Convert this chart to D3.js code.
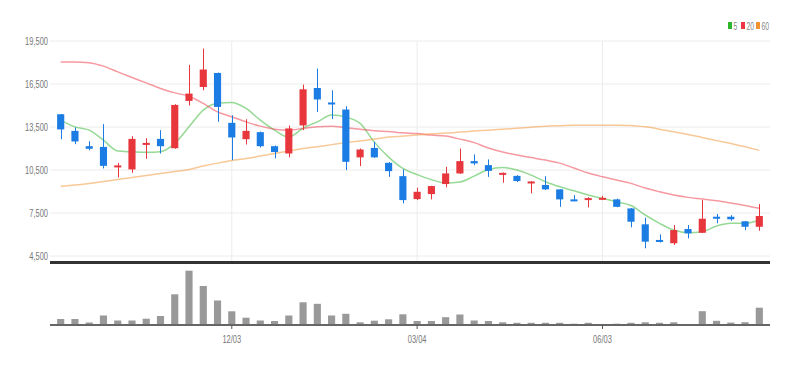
<!DOCTYPE html>
<html><head><meta charset="utf-8">
<script src="https://cdn.jsdelivr.net/npm/d3@7"></script>
<style>
html,body{margin:0;padding:0;background:#fff;}
svg text{font-family:"Liberation Sans","Arial",sans-serif;}
</style></head>
<body><svg id="c" width="798" height="365"></svg>
<script>
const dates = ["09/10","09/17","09/24","10/01","10/08","10/15","10/22","10/29","11/05","11/12","11/19","11/26",
"12/03","12/10","12/17","12/24","12/31","01/07","01/14","01/21","01/28","02/04","02/11","02/18","02/25",
"03/04","03/11","03/18","03/25","04/01","04/08","04/15","04/22","04/29","05/06","05/13","05/20","05/27",
"06/03","06/10","06/17","06/24","07/01","07/08","07/15","07/22","07/29","08/05","08/12","08/19"];
const openP  = [14390,13230,12160,12110,10680,10540,12280,12670,12020,15320,16290,17270,13790,12650,13140,12160,11650,13610,16220,15210,14720,11380,12040,11000,10070,8470,8820,9520,10260,11120,10840,10210,10090,9590,9450,9150,8450,8450,8450,8450,7820,6710,5620,5390,6380,6120,7240,7240,6920,6540];
const highP  = [14400,13470,12510,13700,11000,12860,12720,13280,15090,17830,18970,17300,14320,14040,13180,12210,13610,16460,17580,16060,14950,12000,12460,11050,10540,9260,9400,10720,12000,11590,11240,10330,10140,9720,10070,9160,8750,8600,8700,8500,7850,7170,6010,6660,6660,8400,7430,7350,6950,8120];
const lowP   = [12650,12300,11880,10610,9980,10300,11280,11650,11980,15000,16060,13860,11190,12280,12070,11310,11380,13280,14550,14060,10490,10770,11350,10020,8170,8400,8450,9290,10230,10840,10020,9610,9660,8870,9100,7930,8330,7890,8400,7900,6500,5040,5440,5270,5730,6100,6780,6960,6310,6260];
const closeP = [13330,12490,11980,10790,10820,12670,12390,12160,15040,15830,17510,14900,12770,13230,12160,11750,13400,16130,15420,15090,11070,11930,11380,10420,8400,8980,9380,10260,11120,10960,10440,10300,9730,9700,9150,8450,8380,8540,8560,7930,6890,5500,5480,6310,6080,7100,7100,7060,6540,7290];
const ma5  = [13980,13510,13280,12585,11820,11770,11730,11770,12355,13510,14680,15160,15210,14795,13980,13280,12795,13420,13860,14330,14190,13750,12445,11400,10610,10180,9830,9590,9660,10075,10530,10680,10495,10145,9680,9330,9050,8750,8520,8285,8020,7360,6780,6310,6125,6195,6590,6780,6780,7010];
const ma20 = [18040,18040,17990,17745,17345,16955,16580,16190,15880,15650,15145,14560,14210,13860,13560,13350,13280,13400,13525,13560,13455,13350,13245,13180,13095,13040,12935,12865,12655,12410,12030,11750,11540,11365,11190,10980,10635,10285,10025,9800,9565,9240,8980,8750,8590,8475,8355,8195,8020,7825];
const ma60 = [9360,9450,9565,9695,9830,9970,10110,10250,10390,10530,10775,10980,11155,11295,11470,11645,11820,11995,12130,12270,12410,12535,12655,12795,12865,12935,13025,13075,13145,13215,13280,13350,13420,13490,13560,13595,13630,13630,13630,13630,13610,13510,13350,13165,12970,12775,12550,12355,12120,11870];
const volume = [120,120,50,190,90,90,126,180,614,1086,780,490,274,146,90,80,190,454,424,190,224,54,86,114,214,80,80,156,210,90,80,54,44,44,44,44,26,44,20,26,44,54,44,54,20,276,84,48,56,346];
const priceTicks = [4500,7500,10500,13500,16500,19500];
const dateTicks = ["12/03","03/04","06/03"];
const maNames = ["5","20","60"];

const UP = "#e8363d", DOWN = "#1b7ce4";
const maColors = ["#2db52d","#ee3344","#f39230"];
const svg = d3.select("#c");
const L = 50, R = 770;
const x = d3.scaleBand().domain(dates).range([L, R]).padding(0.5);
const y = d3.scaleLinear().domain([4500, 19500]).range([256, 41]);
const yv = d3.scaleLinear().domain([0, 1100]).range([325, 270]);
const cx = d => x(d) + x.bandwidth() / 2;
const squeeze = sel => sel.each(function() {
  const w = this.getComputedTextLength();
  d3.select(this).attr("textLength", w * 0.68).attr("lengthAdjust", "spacingAndGlyphs");
});

// grid
const g = svg.append("g");
g.selectAll("line.h").data(priceTicks).join("line")
  .attr("x1", L).attr("x2", R).attr("y1", d => y(d)).attr("y2", d => y(d))
  .attr("stroke", "#ececec").attr("stroke-width", 1);
g.selectAll("line.v").data(dateTicks).join("line")
  .attr("x1", d => cx(d)).attr("x2", d => cx(d)).attr("y1", y(19500)).attr("y2", 261)
  .attr("stroke", "#ececec").attr("stroke-width", 1);

// y axis labels
const ya = svg.append("g").attr("transform", `translate(${L-2},0)`)
  .call(d3.axisLeft(y).tickValues(priceTicks).tickFormat(d3.format(",")).tickSize(0).tickPadding(0));
ya.select(".domain").remove();
ya.selectAll("text").attr("fill", "#777").style("font-size", "11px").call(squeeze);

// MA lines
const maData = [ma5, ma20, ma60];
const line = d3.line().x((d, i) => cx(dates[i])).y(d => y(d)).curve(d3.curveMonotoneX);
maData.forEach((arr, k) => {
  svg.append("path").datum(arr).attr("d", line).attr("fill", "none")
    .attr("stroke", maColors[k]).attr("stroke-opacity", 0.5).attr("stroke-width", 1.5);
});

// candles
const idx = d3.range(dates.length);
const col = i => closeP[i] >= openP[i] ? UP : DOWN;
const cg = svg.append("g");
cg.selectAll("line.w").data(idx).join("line")
  .attr("x1", i => Math.round(cx(dates[i])) + 0.5).attr("x2", i => Math.round(cx(dates[i])) + 0.5)
  .attr("y1", i => y(highP[i])).attr("y2", i => y(lowP[i]))
  .attr("stroke", col).attr("stroke-width", 1);
cg.selectAll("rect").data(idx).join("rect")
  .attr("x", i => x(dates[i])).attr("width", x.bandwidth())
  .attr("y", i => y(Math.max(openP[i], closeP[i])))
  .attr("height", i => Math.max(2, Math.abs(y(openP[i]) - y(closeP[i]))))
  .attr("fill", col);

// separator
svg.append("line").attr("x1", L).attr("x2", R).attr("y1", 262.5).attr("y2", 262.5)
  .attr("stroke", "#333").attr("stroke-width", 3);

// volume
svg.append("g").selectAll("rect").data(idx).join("rect")
  .attr("x", i => x(dates[i])).attr("width", x.bandwidth())
  .attr("y", i => yv(volume[i])).attr("height", i => yv(0) - yv(volume[i]))
  .attr("fill", "#999");

const xa = svg.append("g").attr("transform", "translate(0,325)")
  .call(d3.axisBottom(x).tickValues(dateTicks).tickSize(4).tickPadding(6));
xa.select(".domain").attr("stroke", "#666").attr("stroke-width", 2).attr("d", `M${L},0H${R}`);
xa.selectAll(".tick line").attr("stroke", "#555");
xa.selectAll("text").attr("fill", "#777").style("font-size", "11px").call(squeeze);

// legend
const lg = svg.append("g");
const lx = [728, 741, 756];
maNames.forEach((n, k) => {
  lg.append("rect").attr("x", lx[k]).attr("y", 22).attr("width", 4).attr("height", 7).attr("fill", maColors[k]);
  lg.append("text").attr("x", lx[k] + 5.5).attr("y", 29.5).text(n)
    .attr("fill", "#888").style("font-size", "10px").call(squeeze);
});
</script></body></html>
